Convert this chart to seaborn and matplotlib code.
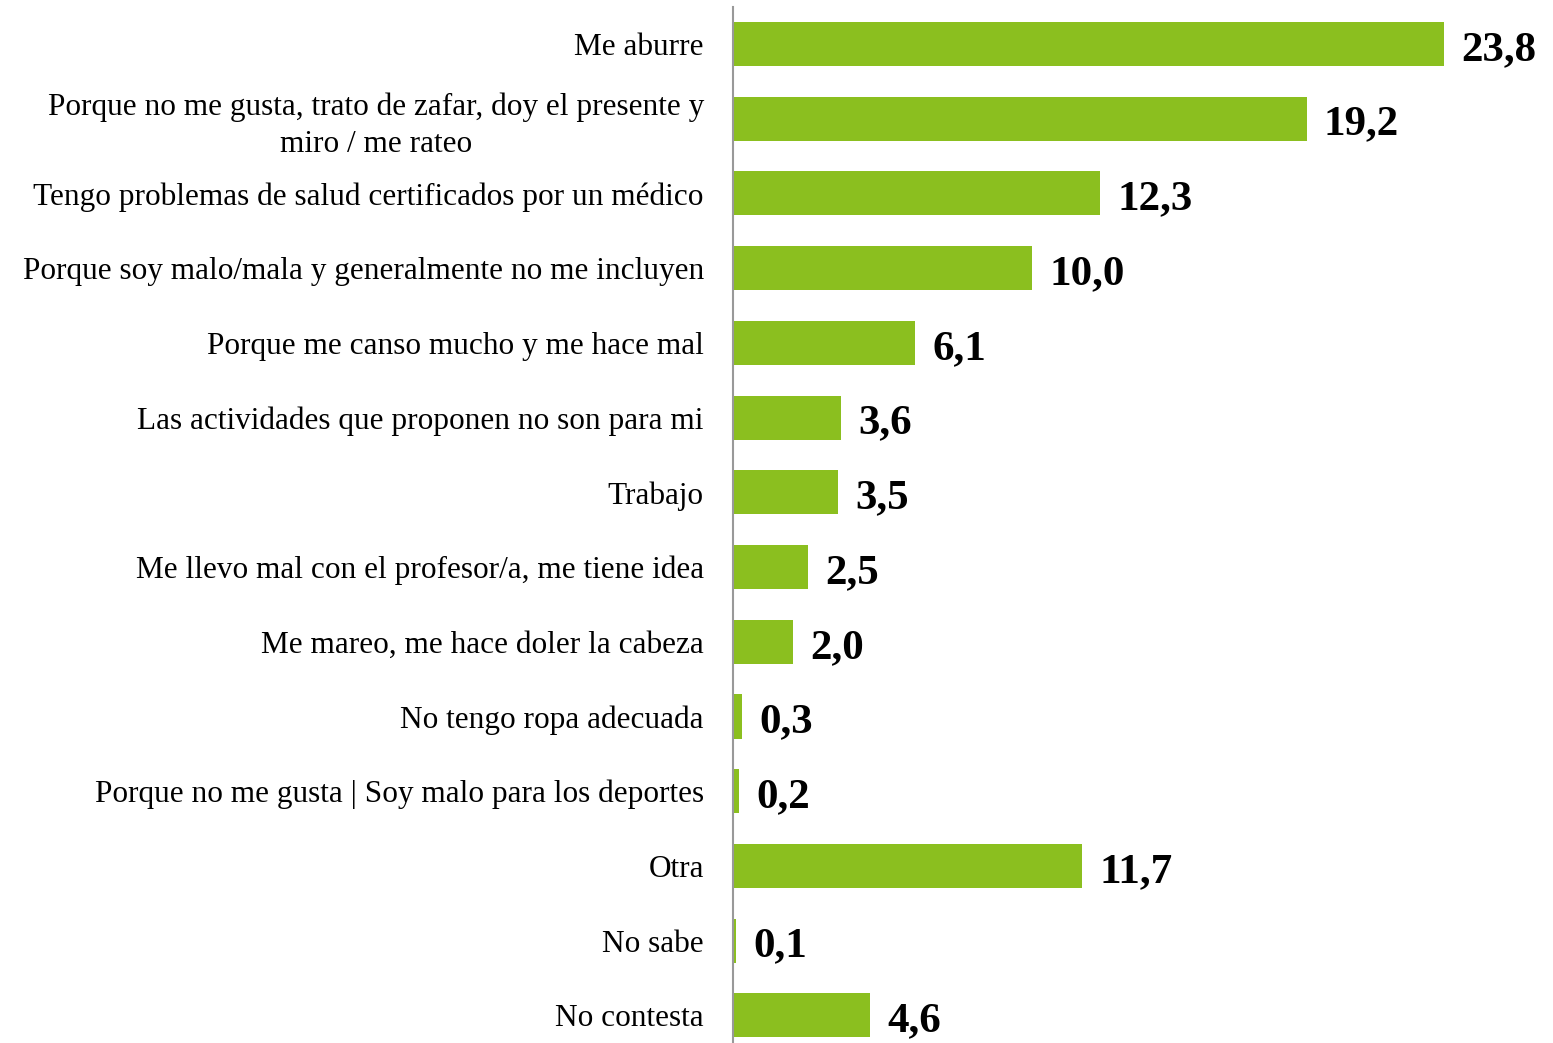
import matplotlib
matplotlib.use("Agg")
import matplotlib.pyplot as plt
import seaborn as sns
import pandas as pd

categories = [
    "Me aburre",
    "Porque no me gusta, trato de zafar, doy el presente y\nmiro / me rateo",
    "Tengo problemas de salud certificados por un médico",
    "Porque soy malo/mala y generalmente no me incluyen",
    "Porque me canso mucho y me hace mal",
    "Las actividades que proponen no son para mi",
    "Trabajo",
    "Me llevo mal con el profesor/a, me tiene idea",
    "Me mareo, me hace doler la cabeza",
    "No tengo ropa adecuada",
    "Porque no me gusta | Soy malo para los deportes",
    "Otra",
    "No sabe",
    "No contesta",
]
values = [23.8, 19.2, 12.3, 10.0, 6.1, 3.6, 3.5, 2.5, 2.0, 0.3, 0.2, 11.7, 0.1, 4.6]
value_labels = ["23,8", "19,2", "12,3", "10,0", "6,1", "3,6", "3,5", "2,5", "2,0",
                "0,3", "0,2", "11,7", "0,1", "4,6"]

df = pd.DataFrame({"cat": categories, "val": values})

sns.set_theme(style="white")
plt.rcParams["font.family"] = ["Liberation Serif", "DejaVu Serif"]

fig = plt.figure(figsize=(15.53, 10.43), dpi=100)
ax = fig.add_axes([733 / 1553, 0.0, 1 - 733 / 1553, 1 - 7 / 1043])

sns.barplot(data=df, y="cat", x="val", orient="h", color="#8BBF1F",
            saturation=1, width=0.59, ax=ax, edgecolor="none")

ax.set_xlim(0, 820 / 29.87)
ax.set_ylim(13.37, -0.495)
ax.set_xlabel("")
ax.set_ylabel("")
ax.set_xticks([])
for s in ["top", "right", "bottom"]:
    ax.spines[s].set_visible(False)
ax.spines["left"].set_color("#999999")
ax.spines["left"].set_linewidth(1.5)

ax.tick_params(axis="y", length=0, pad=21)
for lab in ax.get_yticklabels():
    lab.set_fontsize(22.5)
    lab.set_color("black")
    lab.set_horizontalalignment("right")
    lab.set_multialignment("center")
    lab.set_linespacing(1.35)

for i, (v, t) in enumerate(zip(values, value_labels)):
    ax.text(v + 0.58, i + 0.08, t, va="center", ha="left",
            fontsize=31, color="black", fontweight="bold")

fig.savefig("out.png", dpi=100, facecolor="white")
